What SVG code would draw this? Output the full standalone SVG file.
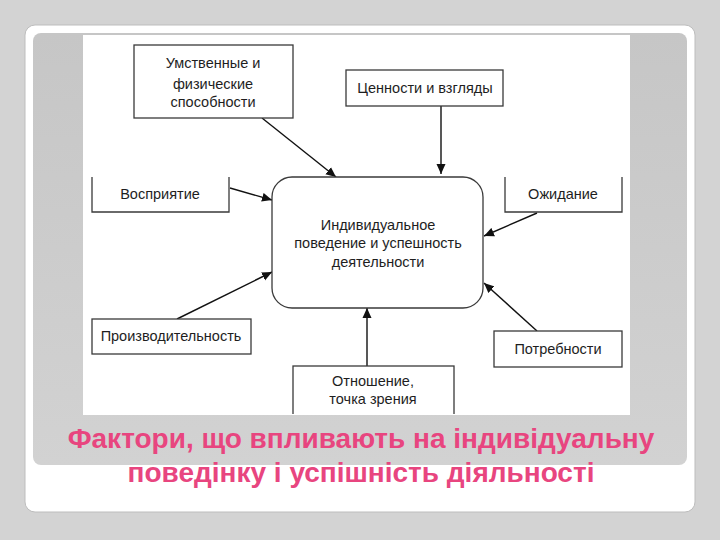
<svg xmlns="http://www.w3.org/2000/svg" width="720" height="540" viewBox="0 0 720 540">
  <style>
    .box { fill: #ffffff; stroke: #3a3a3a; stroke-width: 1.3; }
    .open { fill: #ffffff; stroke: #3a3a3a; stroke-width: 1.3; }
    .lbl { font-family: "Liberation Sans", Arial, sans-serif; font-size: 14.5px; fill: #1e1e1e; text-anchor: middle; }
    .edge { stroke: #111111; stroke-width: 1.4; fill: none; marker-end: url(#arr); }
    .title { font-family: "Liberation Sans", Arial, sans-serif; font-size: 28px; font-weight: bold; fill: #e8457f; text-anchor: middle; }
  </style>
  <defs>
    <marker id="arr" viewBox="0 0 10 10" refX="10" refY="5" markerWidth="10" markerHeight="10" markerUnits="userSpaceOnUse" orient="auto">
      <path d="M0,0.5 L10,5 L0,9.5 Z" fill="#111111"/>
    </marker>
    <linearGradient id="panel" x1="0" y1="0" x2="0" y2="1">
      <stop offset="0" stop-color="#c6c6c6"/>
      <stop offset="1" stop-color="#d2d2d2"/>
    </linearGradient>
    <clipPath id="img"><rect x="83" y="35" width="547" height="379"/></clipPath>
  </defs>

  <rect x="0" y="0" width="720" height="540" fill="#d3d3d3"/>
  <rect x="25" y="25" width="670" height="487" rx="10" fill="#ffffff" stroke="#bdbdbd" stroke-width="1"/>
  <rect x="33" y="33" width="654" height="432" rx="8" fill="url(#panel)"/>
  <rect x="83" y="35" width="547" height="380" fill="#ffffff"/>

  <g clip-path="url(#img)">
    <g id="connectors">
      <line class="edge" x1="262" y1="118" x2="336" y2="177"/>
      <line class="edge" x1="441" y1="106" x2="441" y2="174"/>
      <line class="edge" x1="230" y1="188" x2="272" y2="200"/>
      <line class="edge" x1="537" y1="213" x2="484" y2="236"/>
      <line class="edge" x1="177" y1="319" x2="272" y2="272"/>
      <line class="edge" x1="537" y1="331" x2="484" y2="283"/>
      <line class="edge" x1="367" y1="366" x2="367" y2="308"/>
    </g>

    <g id="center">
      <rect class="box" x="272" y="177" width="211" height="131" rx="20"/>
      <text class="lbl" x="378" y="230">Индивидуальное</text>
      <text class="lbl" x="378" y="248">поведение и успешность</text>
      <text class="lbl" x="378" y="267">деятельности</text>
    </g>

    <g id="abilities">
      <rect class="box" x="134" y="45" width="159" height="73"/>
      <text class="lbl" x="213" y="68">Умственные и</text>
      <text class="lbl" x="213" y="89">физические</text>
      <text class="lbl" x="213" y="107">способности</text>
    </g>

    <g id="values">
      <rect class="box" x="346" y="70" width="157" height="36"/>
      <text class="lbl" x="425" y="93">Ценности и взгляды</text>
    </g>

    <g id="perception">
      <rect x="92" y="177" width="137" height="35" fill="#ffffff"/>
      <path class="open" d="M92,177 V212 H229 V177"/>
      <text class="lbl" x="160" y="199">Восприятие</text>
    </g>

    <g id="expectation">
      <rect x="505" y="177" width="117" height="35" fill="#ffffff"/>
      <path class="open" d="M505,177 V212 H622 V177"/>
      <text class="lbl" x="563" y="199">Ожидание</text>
    </g>

    <g id="productivity">
      <rect class="box" x="92" y="319" width="159" height="35"/>
      <text class="lbl" x="171" y="341">Производительность</text>
    </g>

    <g id="needs">
      <rect class="box" x="494" y="331" width="128" height="36"/>
      <text class="lbl" x="558" y="354">Потребности</text>
    </g>

    <g id="attitude">
      <rect class="box" x="293" y="366" width="161" height="60"/>
      <text class="lbl" x="373" y="386">Отношение,</text>
      <text class="lbl" x="373" y="404">точка зрения</text>
    </g>
  </g>

  <g id="title">
    <text class="title" x="361" y="448">Фактори, що впливають на індивідуальну</text>
    <text class="title" x="361" y="482">поведінку і успішність діяльності</text>
  </g>
</svg>
